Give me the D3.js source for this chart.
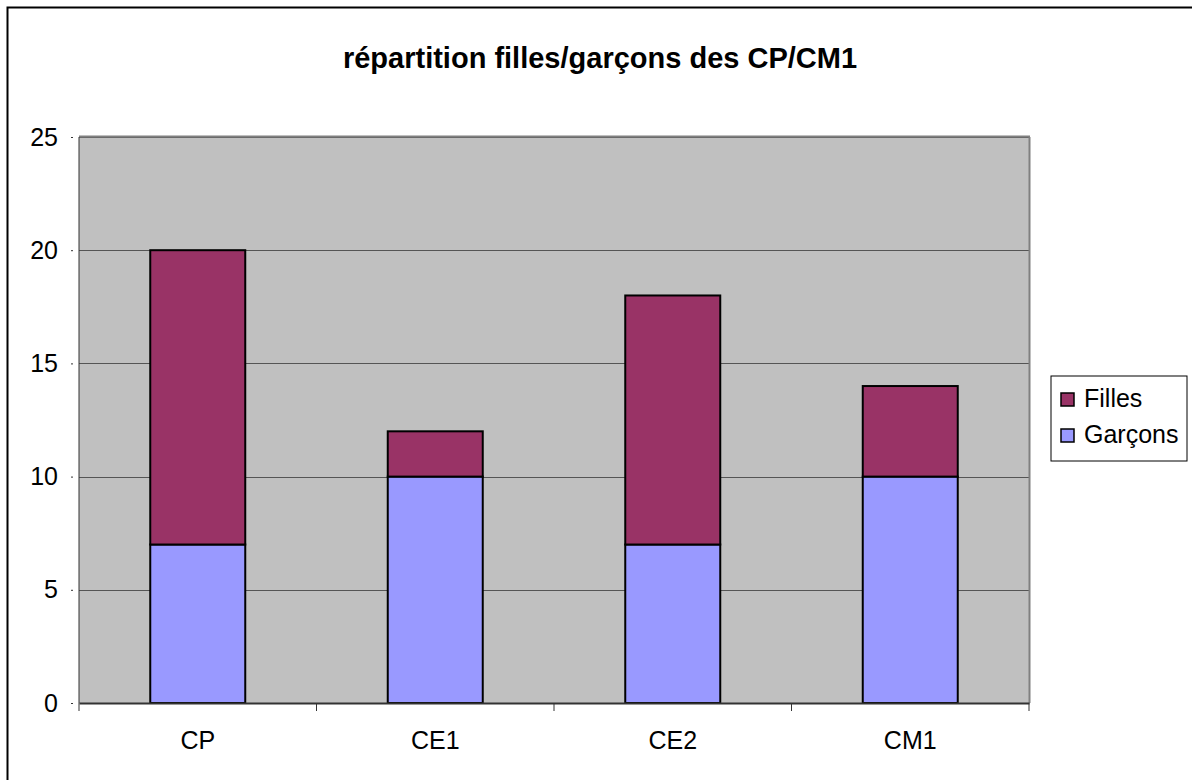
<!DOCTYPE html>
<html>
<head>
<meta charset="utf-8">
<script src="https://cdn.jsdelivr.net/npm/d3@7"></script>
<style>
  body { margin: 0; background: #fff; }
  text { font-family: "Liberation Sans", Arial, sans-serif; }
</style>
</head>
<body>
<div id="chart"></div>
<script>
// data
const classes = ["CP", "CE1", "CE2", "CM1"];
const garcons = [7, 10, 7, 10];
const filles = [13, 2, 11, 4];
const seriesNames = ["Garçons", "Filles"];
const yTicks = [0, 5, 10, 15, 20, 25];

const width = 1192, height = 780;
const margin = { top: 137, right: 163, bottom: 77, left: 79 };
const plotW = width - margin.left - margin.right;
const plotH = height - margin.top - margin.bottom;

const colors = { "Garçons": "#9999FF", "Filles": "#993366" };

const svg = d3.select("#chart").append("svg")
    .attr("width", width)
    .attr("height", height);

// outer chart border (runs off the right/bottom edge)
svg.append("rect")
    .attr("x", 7.5).attr("y", 7.5)
    .attr("width", 1200).attr("height", 800)
    .attr("fill", "#fff")
    .attr("stroke", "#000")
    .attr("stroke-width", 2);

svg.append("text")
    .attr("x", 600).attr("y", 68)
    .attr("text-anchor", "middle")
    .style("font-size", "29px")
    .style("font-weight", "bold")
    .text("répartition filles/garçons des CP/CM1");

const g = svg.append("g")
    .attr("transform", `translate(${margin.left},${margin.top})`);

const x = d3.scaleBand()
    .domain(classes)
    .range([0, plotW])
    .paddingInner(0.6)
    .paddingOuter(0.3);

const xAxisScale = d3.scaleBand().domain(classes).range([0, plotW]);

const y = d3.scaleLinear()
    .domain([0, 25])
    .range([plotH, 0]);

// plot background
g.append("rect")
    .attr("width", plotW).attr("height", plotH)
    .attr("fill", "#C0C0C0");

// gridlines
g.selectAll(".grid")
    .data(yTicks.filter(d => d > 0))
    .enter().append("line")
    .attr("x1", 0).attr("x2", plotW)
    .attr("y1", d => Math.round(y(d)) + 0.5)
    .attr("y2", d => Math.round(y(d)) + 0.5)
    .attr("stroke", "#555")
    .attr("stroke-width", 1);

// plot border right / top
g.append("line")
    .attr("x1", plotW + 0.5).attr("x2", plotW + 0.5)
    .attr("y1", 0).attr("y2", plotH)
    .attr("stroke", "#808080").attr("stroke-width", 2);
g.append("line")
    .attr("x1", 0).attr("x2", plotW + 1)
    .attr("y1", -0.5).attr("y2", -0.5)
    .attr("stroke", "#808080").attr("stroke-width", 2);

// stacked bars
const rows = classes.map((c, i) => ({ classe: c, "Garçons": garcons[i], "Filles": filles[i] }));
const stacked = d3.stack().keys(seriesNames)(rows);

g.selectAll(".layer")
    .data(stacked)
    .enter().append("g")
    .attr("fill", d => colors[d.key])
    .selectAll("rect")
    .data(d => d)
    .enter().append("rect")
    .attr("x", d => x(d.data.classe))
    .attr("y", d => y(d[1]))
    .attr("width", x.bandwidth())
    .attr("height", d => y(d[0]) - y(d[1]))
    .attr("stroke", "#000")
    .attr("stroke-width", 2);

// y axis
const yAxis = g.append("g")
    .call(d3.axisLeft(y).tickValues(yTicks).tickSize(8).tickPadding(8).tickFormat(d3.format("d")));
yAxis.select(".domain").attr("stroke", "#333").attr("d", `M0,${plotH}V0`);
yAxis.selectAll(".tick line").attr("x1", -6).attr("stroke", "#333");
yAxis.selectAll("text").style("font-size", "25px").attr("fill", "#000").attr("x", -21);

// x axis
const xAxis = g.append("g")
    .attr("transform", `translate(0,${plotH})`)
    .call(d3.axisBottom(xAxisScale).tickSize(0).tickPadding(28));
xAxis.select(".domain").attr("stroke", "#333").attr("stroke-width", 2);
xAxis.selectAll("text").style("font-size", "25px").attr("fill", "#000");

g.selectAll(".xtick")
    .data(d3.range(classes.length + 1))
    .enter().append("line")
    .attr("x1", i => i * xAxisScale.step())
    .attr("x2", i => i * xAxisScale.step())
    .attr("y1", plotH).attr("y2", plotH + 8)
    .attr("stroke", "#333");

// legend
const legend = svg.append("g").attr("transform", "translate(1051,376)");
legend.append("rect")
    .attr("width", 136).attr("height", 85)
    .attr("fill", "#fff")
    .attr("stroke", "#000")
    .attr("stroke-width", 1);

const legendItems = ["Filles", "Garçons"];
legendItems.forEach((name, i) => {
    const item = legend.append("g").attr("transform", `translate(10,${17 + i * 36})`);
    item.append("rect")
        .attr("width", 13).attr("height", 13)
        .attr("fill", colors[name])
        .attr("stroke", "#000")
        .attr("stroke-width", 1.5);
    item.append("text")
        .attr("x", 23).attr("y", 14)
        .style("font-size", "25px")
        .text(name);
});
</script>
</body>
</html>
